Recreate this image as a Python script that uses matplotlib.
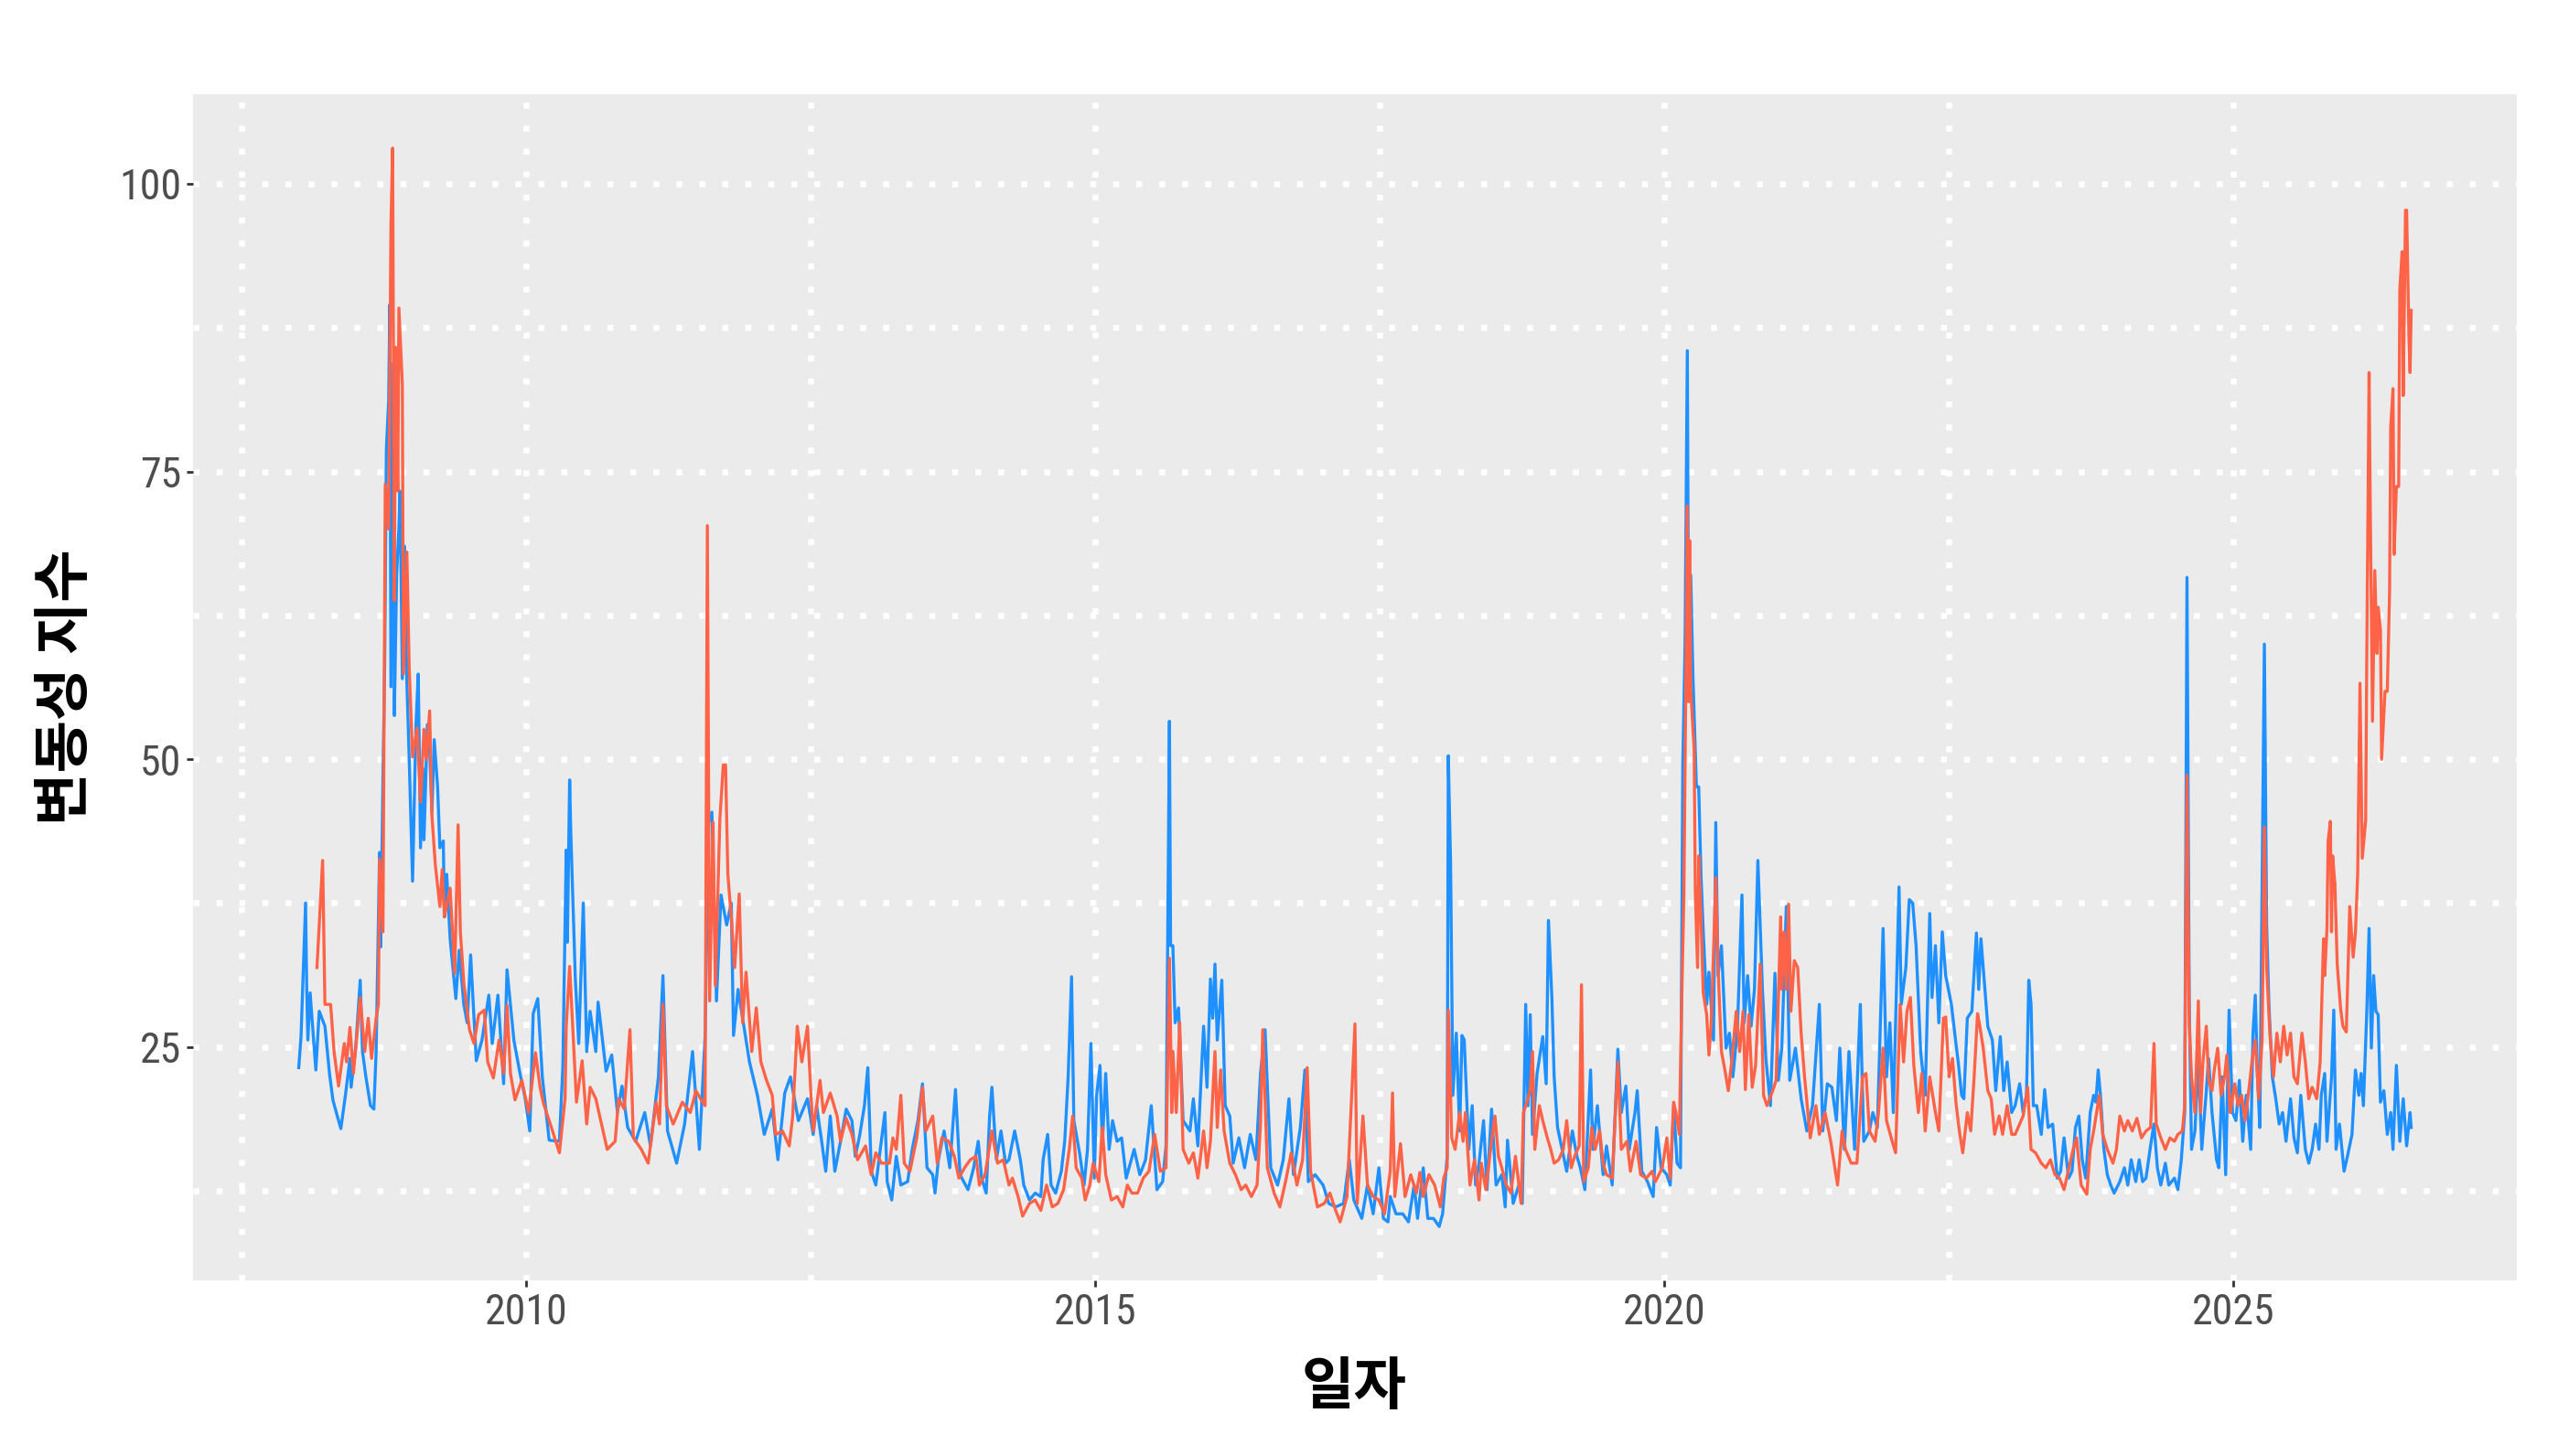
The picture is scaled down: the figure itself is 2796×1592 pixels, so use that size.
import matplotlib.pyplot as plt
from matplotlib import font_manager

# 변동성 지수 (파란색 / 주황색), x = 연도(소수)
series_blue = [
    (2008.00, 23.2), (2008.02, 25.9), (2008.06, 37.5), (2008.07, 30.0), (2008.08, 25.6),
    (2008.10, 29.7), (2008.15, 23.0), (2008.18, 28.1), (2008.23, 26.8), (2008.27, 22.7),
    (2008.30, 20.4), (2008.33, 19.3), (2008.37, 17.9), (2008.41, 20.8), (2008.45, 24.0),
    (2008.46, 21.5), (2008.50, 24.9), (2008.54, 30.8), (2008.56, 24.6), (2008.59, 22.4),
    (2008.63, 19.9), (2008.66, 19.6), (2008.68, 24.6), (2008.71, 41.9), (2008.72, 33.7),
    (2008.74, 48.5), (2008.755, 58.2), (2008.77, 77.0), (2008.79, 81.2), (2008.80, 89.5),
    (2008.81, 56.3), (2008.83, 84.4), (2008.84, 53.8), (2008.86, 66.0), (2008.88, 70.1),
    (2008.89, 73.3), (2008.91, 57.0), (2008.93, 68.5), (2008.95, 56.6), (2008.97, 50.2),
    (2009.00, 39.4), (2009.03, 53.0), (2009.05, 57.4), (2009.07, 42.3), (2009.09, 49.2),
    (2009.10, 43.0), (2009.13, 53.0), (2009.15, 50.7), (2009.17, 45.4), (2009.19, 51.7),
    (2009.22, 47.6), (2009.24, 42.3), (2009.27, 42.9), (2009.28, 36.3), (2009.30, 40.0),
    (2009.33, 34.4), (2009.38, 29.2), (2009.41, 33.4), (2009.45, 28.7), (2009.48, 27.1),
    (2009.51, 33.0), (2009.56, 23.8), (2009.61, 25.6), (2009.67, 29.5), (2009.70, 25.3),
    (2009.75, 29.5), (2009.80, 21.8), (2009.83, 31.7), (2009.89, 25.6), (2009.94, 22.9),
    (2009.99, 20.5), (2010.03, 17.7), (2010.06, 27.9), (2010.10, 29.2), (2010.14, 22.4),
    (2010.20, 16.9), (2010.29, 16.8), (2010.32, 23.2), (2010.35, 42.1), (2010.36, 34.1),
    (2010.38, 48.2), (2010.39, 43.7), (2010.43, 30.9), (2010.46, 25.3), (2010.50, 37.5),
    (2010.53, 24.6), (2010.56, 28.1), (2010.61, 24.6), (2010.63, 28.9), (2010.70, 22.9),
    (2010.75, 24.3), (2010.80, 19.3), (2010.84, 21.6), (2010.89, 18.0), (2010.96, 16.8),
    (2011.04, 19.3), (2011.09, 16.4), (2011.16, 22.4), (2011.20, 31.2), (2011.24, 17.7),
    (2011.32, 14.9), (2011.39, 18.3), (2011.46, 24.6), (2011.52, 16.1), (2011.57, 25.9),
    (2011.60, 44.5), (2011.63, 45.4), (2011.67, 29.0), (2011.71, 38.2), (2011.76, 35.6),
    (2011.80, 37.5), (2011.82, 26.0), (2011.86, 30.0), (2011.96, 23.7), (2012.03, 20.8),
    (2012.09, 17.4), (2012.16, 19.6), (2012.21, 15.2), (2012.27, 21.0), (2012.32, 22.4),
    (2012.39, 18.6), (2012.47, 20.5), (2012.52, 17.4), (2012.55, 19.9), (2012.60, 16.4),
    (2012.63, 14.2), (2012.67, 19.0), (2012.71, 14.2), (2012.76, 16.8), (2012.81, 19.6),
    (2012.86, 18.6), (2012.89, 15.5), (2012.93, 17.4), (2012.97, 19.9), (2013.00, 23.2),
    (2013.03, 14.2), (2013.07, 13.0), (2013.15, 19.3), (2013.17, 13.3), (2013.21, 11.7),
    (2013.25, 15.5), (2013.29, 13.0), (2013.35, 13.3), (2013.39, 16.1), (2013.44, 18.6),
    (2013.48, 21.8), (2013.52, 14.5), (2013.57, 13.9), (2013.59, 12.3), (2013.62, 15.2),
    (2013.67, 17.7), (2013.72, 14.5), (2013.77, 21.3), (2013.81, 13.9), (2013.88, 12.6),
    (2013.93, 14.5), (2013.97, 16.8), (2014.00, 13.6), (2014.04, 12.3), (2014.07, 19.0),
    (2014.09, 21.5), (2014.13, 15.2), (2014.17, 17.7), (2014.21, 14.9), (2014.24, 15.2),
    (2014.29, 17.7), (2014.34, 15.2), (2014.37, 13.0), (2014.42, 11.7), (2014.47, 12.3),
    (2014.52, 12.0), (2014.54, 15.2), (2014.58, 17.4), (2014.61, 13.0), (2014.65, 12.3),
    (2014.70, 14.2), (2014.73, 16.8), (2014.76, 22.4), (2014.79, 31.1), (2014.81, 18.6),
    (2014.86, 15.8), (2014.90, 13.0), (2014.93, 16.1), (2014.96, 25.3), (2014.99, 13.6),
    (2015.01, 20.8), (2015.04, 23.4), (2015.06, 16.4), (2015.09, 22.7), (2015.12, 16.1),
    (2015.15, 18.6), (2015.19, 16.8), (2015.23, 17.1), (2015.27, 13.6), (2015.34, 16.1),
    (2015.39, 13.9), (2015.44, 15.2), (2015.49, 19.9), (2015.54, 12.6), (2015.59, 13.3),
    (2015.62, 16.4), (2015.65, 53.3), (2015.66, 33.8), (2015.68, 33.8), (2015.70, 27.1),
    (2015.73, 28.4), (2015.77, 18.6), (2015.83, 17.7), (2015.86, 20.5), (2015.90, 16.4),
    (2015.95, 26.8), (2015.98, 21.5), (2016.01, 30.9), (2016.03, 27.5), (2016.05, 32.2),
    (2016.07, 25.6), (2016.11, 30.8), (2016.14, 19.9), (2016.18, 19.0), (2016.21, 14.9),
    (2016.26, 17.1), (2016.31, 14.5), (2016.36, 17.4), (2016.41, 15.2), (2016.45, 22.7),
    (2016.49, 26.5), (2016.54, 14.5), (2016.60, 13.0), (2016.65, 15.2), (2016.70, 20.5),
    (2016.74, 13.9), (2016.80, 18.0), (2016.84, 23.0), (2016.87, 13.3), (2016.93, 13.9),
    (2017.00, 13.0), (2017.05, 11.4), (2017.11, 11.1), (2017.18, 11.4), (2017.23, 15.2),
    (2017.27, 11.7), (2017.34, 10.1), (2017.39, 13.0), (2017.44, 10.5), (2017.49, 14.5),
    (2017.53, 10.1), (2017.57, 9.8), (2017.59, 12.0), (2017.64, 10.5), (2017.70, 10.5),
    (2017.75, 9.8), (2017.80, 13.0), (2017.83, 10.1), (2017.88, 14.5), (2017.92, 10.1),
    (2017.97, 10.1), (2018.02, 9.4), (2018.05, 10.5), (2018.07, 13.0), (2018.09, 15.5),
    (2018.10, 50.3), (2018.12, 41.0), (2018.14, 20.8), (2018.17, 26.2), (2018.20, 17.7),
    (2018.22, 26.0), (2018.24, 25.6), (2018.28, 16.1), (2018.31, 19.9), (2018.34, 13.0),
    (2018.37, 14.9), (2018.41, 18.6), (2018.44, 12.6), (2018.48, 19.6), (2018.52, 13.0),
    (2018.57, 13.9), (2018.60, 11.1), (2018.62, 16.9), (2018.67, 11.4), (2018.72, 13.0),
    (2018.75, 11.4), (2018.78, 28.7), (2018.80, 19.9), (2018.82, 27.8), (2018.84, 17.4),
    (2018.88, 22.7), (2018.93, 25.9), (2018.96, 21.8), (2018.98, 36.0), (2019.01, 29.3),
    (2019.03, 22.4), (2019.06, 18.0), (2019.10, 16.1), (2019.14, 14.2), (2019.19, 17.7),
    (2019.23, 15.5), (2019.26, 14.5), (2019.30, 12.6), (2019.35, 23.0), (2019.37, 16.1),
    (2019.41, 19.9), (2019.46, 13.9), (2019.49, 16.4), (2019.54, 13.0), (2019.59, 24.8),
    (2019.62, 19.3), (2019.66, 21.6), (2019.69, 16.1), (2019.74, 19.3), (2019.76, 21.2),
    (2019.80, 14.2), (2019.85, 13.3), (2019.90, 12.0), (2019.93, 18.0), (2019.97, 14.5),
    (2020.02, 13.9), (2020.05, 13.0), (2020.08, 19.9), (2020.11, 14.9), (2020.14, 14.5),
    (2020.16, 49.5), (2020.18, 60.0), (2020.20, 85.5), (2020.21, 62.0), (2020.23, 66.0),
    (2020.25, 57.0), (2020.28, 47.6), (2020.30, 47.6), (2020.32, 40.0), (2020.34, 35.0),
    (2020.37, 28.7), (2020.39, 31.5), (2020.43, 25.6), (2020.45, 44.5), (2020.47, 31.2),
    (2020.50, 33.8), (2020.54, 24.9), (2020.57, 26.2), (2020.60, 22.4), (2020.64, 26.5),
    (2020.68, 38.2), (2020.70, 27.1), (2020.73, 31.2), (2020.76, 26.8), (2020.79, 30.0),
    (2020.82, 41.2), (2020.86, 30.0), (2020.89, 24.0), (2020.93, 19.9), (2020.97, 31.4),
    (2021.00, 22.1), (2021.03, 24.9), (2021.07, 37.2), (2021.10, 22.1), (2021.15, 24.9),
    (2021.20, 20.5), (2021.25, 17.7), (2021.30, 19.9), (2021.36, 28.7), (2021.39, 17.7),
    (2021.43, 21.8), (2021.47, 21.5), (2021.51, 18.6), (2021.54, 24.9), (2021.58, 16.1),
    (2021.62, 24.6), (2021.67, 16.1), (2021.72, 28.7), (2021.75, 16.8), (2021.80, 17.7),
    (2021.83, 19.3), (2021.87, 18.0), (2021.92, 35.3), (2021.95, 22.4), (2021.98, 27.1),
    (2022.01, 19.3), (2022.06, 38.9), (2022.08, 28.7), (2022.12, 31.9), (2022.15, 37.8),
    (2022.18, 37.5), (2022.21, 33.8), (2022.25, 24.6), (2022.29, 20.8), (2022.33, 36.6),
    (2022.35, 29.3), (2022.38, 33.8), (2022.41, 27.1), (2022.44, 35.0), (2022.47, 31.2),
    (2022.52, 28.7), (2022.56, 25.3), (2022.58, 23.7), (2022.61, 20.8), (2022.63, 20.5),
    (2022.66, 27.5), (2022.70, 28.1), (2022.74, 34.9), (2022.76, 30.0), (2022.78, 34.4),
    (2022.81, 30.6), (2022.84, 26.8), (2022.88, 25.6), (2022.91, 21.2), (2022.95, 25.9),
    (2022.98, 21.2), (2023.01, 23.7), (2023.05, 19.3), (2023.08, 19.9), (2023.12, 21.8),
    (2023.15, 19.3), (2023.18, 20.8), (2023.20, 30.8), (2023.22, 28.7), (2023.24, 19.9),
    (2023.27, 19.9), (2023.31, 17.4), (2023.34, 21.3), (2023.37, 18.0), (2023.41, 18.3),
    (2023.45, 13.6), (2023.48, 14.2), (2023.51, 17.1), (2023.55, 13.6), (2023.58, 14.2),
    (2023.61, 18.0), (2023.64, 19.0), (2023.67, 15.2), (2023.70, 13.6), (2023.74, 19.3),
    (2023.77, 20.8), (2023.79, 20.2), (2023.81, 23.0), (2023.83, 20.8), (2023.86, 16.1),
    (2023.89, 13.9), (2023.92, 13.0), (2023.95, 12.3), (2024.00, 13.3), (2024.04, 14.5),
    (2024.07, 13.0), (2024.10, 15.2), (2024.14, 13.3), (2024.17, 15.2), (2024.20, 13.3),
    (2024.23, 13.6), (2024.27, 16.4), (2024.30, 18.3), (2024.33, 14.5), (2024.36, 13.0),
    (2024.40, 14.9), (2024.43, 13.0), (2024.48, 13.6), (2024.51, 12.6), (2024.54, 15.2),
    (2024.57, 19.3), (2024.59, 65.8), (2024.61, 28.7), (2024.63, 16.1), (2024.66, 17.7),
    (2024.69, 24.0), (2024.72, 16.1), (2024.76, 21.2), (2024.78, 24.0), (2024.81, 19.3),
    (2024.85, 15.2), (2024.87, 14.5), (2024.90, 22.4), (2024.93, 13.9), (2024.96, 28.2),
    (2024.99, 19.3), (2025.02, 18.6), (2025.05, 22.1), (2025.08, 16.8), (2025.11, 20.8),
    (2025.15, 16.1), (2025.17, 26.2), (2025.19, 29.5), (2025.21, 22.4), (2025.23, 18.0),
    (2025.27, 60.0), (2025.29, 35.6), (2025.31, 28.7), (2025.34, 22.4), (2025.37, 20.5),
    (2025.40, 18.3), (2025.43, 19.3), (2025.46, 16.8), (2025.50, 20.5), (2025.53, 17.1),
    (2025.56, 15.8), (2025.59, 20.8), (2025.63, 16.1), (2025.66, 14.9), (2025.69, 16.1),
    (2025.72, 18.3), (2025.75, 16.1), (2025.77, 20.8), (2025.80, 22.7), (2025.82, 16.8),
    (2025.86, 22.4), (2025.88, 28.2), (2025.90, 16.1), (2025.93, 18.3), (2025.97, 14.2),
    (2026.00, 15.5), (2026.04, 17.4), (2026.07, 23.0), (2026.10, 20.8), (2026.12, 22.7),
    (2026.14, 19.9), (2026.17, 28.1), (2026.19, 35.3), (2026.21, 24.9), (2026.23, 31.2),
    (2026.25, 28.1), (2026.27, 27.8), (2026.29, 20.2), (2026.32, 21.2), (2026.35, 17.4),
    (2026.38, 19.3), (2026.40, 16.1), (2026.43, 23.4), (2026.46, 16.8), (2026.49, 20.5),
    (2026.52, 16.4), (2026.55, 19.3), (2026.56, 18.0),
]

series_orange = [
    (2008.16, 31.9), (2008.21, 41.2), (2008.23, 28.7), (2008.28, 28.7), (2008.31, 24.6),
    (2008.35, 21.6), (2008.40, 25.3), (2008.42, 23.7), (2008.45, 26.7), (2008.48, 22.7),
    (2008.52, 27.0), (2008.54, 29.3), (2008.58, 24.6), (2008.61, 27.5), (2008.64, 24.0),
    (2008.68, 27.5), (2008.70, 28.7), (2008.71, 41.3), (2008.74, 35.0), (2008.75, 55.0),
    (2008.76, 73.9), (2008.79, 70.0), (2008.81, 96.4), (2008.825, 103.1), (2008.84, 63.8),
    (2008.85, 85.8), (2008.86, 81.9), (2008.87, 73.3), (2008.88, 89.2), (2008.91, 82.6),
    (2008.92, 57.4), (2008.95, 68.0), (2008.97, 58.1), (2009.00, 50.2), (2009.04, 52.7),
    (2009.07, 46.3), (2009.10, 52.6), (2009.12, 50.0), (2009.15, 54.2), (2009.17, 45.1),
    (2009.20, 40.8), (2009.24, 37.2), (2009.26, 40.4), (2009.28, 36.3), (2009.33, 38.8),
    (2009.37, 31.4), (2009.40, 44.3), (2009.42, 35.0), (2009.45, 30.6), (2009.50, 26.5),
    (2009.54, 25.3), (2009.58, 27.8), (2009.63, 28.2), (2009.66, 23.7), (2009.71, 22.3),
    (2009.76, 25.6), (2009.80, 22.7), (2009.83, 28.6), (2009.86, 22.7), (2009.90, 20.4),
    (2009.96, 22.1), (2010.02, 19.3), (2010.08, 24.5), (2010.12, 21.5), (2010.15, 20.1),
    (2010.22, 18.0), (2010.29, 15.8), (2010.34, 20.5), (2010.35, 26.8), (2010.38, 32.0),
    (2010.41, 26.2), (2010.44, 20.2), (2010.49, 23.8), (2010.53, 18.3), (2010.56, 21.5),
    (2010.61, 20.5), (2010.66, 18.3), (2010.71, 16.1), (2010.78, 16.8), (2010.81, 20.5),
    (2010.86, 19.6), (2010.91, 26.5), (2010.94, 17.1), (2011.01, 16.1), (2011.07, 14.9),
    (2011.14, 20.2), (2011.17, 18.3), (2011.20, 28.7), (2011.23, 19.9), (2011.29, 18.3),
    (2011.37, 20.2), (2011.44, 19.3), (2011.49, 21.2), (2011.53, 20.5), (2011.57, 19.9),
    (2011.59, 70.3), (2011.61, 29.0), (2011.64, 44.5), (2011.66, 30.3), (2011.70, 44.8),
    (2011.73, 49.5), (2011.75, 49.5), (2011.77, 40.0), (2011.80, 36.3), (2011.83, 31.9),
    (2011.87, 38.3), (2011.90, 27.1), (2011.93, 31.5), (2011.98, 24.6), (2012.02, 28.4),
    (2012.06, 23.7), (2012.11, 22.1), (2012.16, 20.8), (2012.19, 17.4), (2012.25, 17.7),
    (2012.31, 16.4), (2012.34, 19.0), (2012.38, 26.8), (2012.42, 23.7), (2012.47, 26.8),
    (2012.50, 20.8), (2012.52, 17.7), (2012.58, 22.1), (2012.61, 19.3), (2012.67, 21.0),
    (2012.73, 19.0), (2012.76, 16.8), (2012.81, 18.8), (2012.86, 17.4), (2012.91, 15.2),
    (2012.98, 16.4), (2013.03, 13.9), (2013.07, 15.8), (2013.12, 14.9), (2013.19, 14.9),
    (2013.22, 17.1), (2013.25, 16.1), (2013.29, 20.8), (2013.32, 14.9), (2013.37, 14.2),
    (2013.43, 17.1), (2013.48, 21.5), (2013.51, 17.7), (2013.57, 19.0), (2013.61, 14.9),
    (2013.65, 17.1), (2013.71, 16.8), (2013.76, 15.5), (2013.80, 13.6), (2013.85, 14.5),
    (2013.90, 15.2), (2013.95, 15.5), (2013.98, 13.0), (2014.03, 13.9), (2014.09, 17.7),
    (2014.14, 14.9), (2014.19, 15.2), (2014.24, 13.0), (2014.27, 13.6), (2014.32, 12.0),
    (2014.36, 10.3), (2014.42, 11.4), (2014.47, 11.7), (2014.52, 10.8), (2014.57, 13.0),
    (2014.62, 11.1), (2014.67, 11.4), (2014.72, 12.6), (2014.77, 16.1), (2014.80, 19.0),
    (2014.83, 14.5), (2014.88, 13.6), (2014.91, 11.7), (2014.95, 13.0), (2014.98, 14.9),
    (2015.03, 13.3), (2015.06, 18.0), (2015.09, 13.9), (2015.14, 11.7), (2015.19, 12.0),
    (2015.24, 11.1), (2015.28, 13.0), (2015.32, 12.3), (2015.37, 12.3), (2015.42, 13.6),
    (2015.47, 14.2), (2015.52, 17.4), (2015.57, 14.2), (2015.62, 14.5), (2015.65, 32.7),
    (2015.67, 19.3), (2015.68, 24.6), (2015.71, 19.3), (2015.74, 27.1), (2015.77, 16.1),
    (2015.82, 14.9), (2015.86, 15.8), (2015.90, 13.6), (2015.95, 17.7), (2015.98, 14.5),
    (2016.01, 16.8), (2016.05, 24.6), (2016.07, 18.0), (2016.10, 23.0), (2016.13, 17.7),
    (2016.18, 14.9), (2016.23, 13.9), (2016.28, 12.6), (2016.32, 13.0), (2016.37, 12.0),
    (2016.42, 13.0), (2016.45, 18.3), (2016.47, 26.5), (2016.51, 14.5), (2016.57, 12.3),
    (2016.62, 11.1), (2016.67, 13.3), (2016.72, 15.8), (2016.77, 13.0), (2016.82, 15.2),
    (2016.86, 23.2), (2016.89, 14.2), (2016.95, 11.1), (2017.01, 11.4), (2017.06, 12.3),
    (2017.11, 10.8), (2017.15, 9.8), (2017.21, 12.0), (2017.28, 27.0), (2017.30, 11.4),
    (2017.35, 19.0), (2017.39, 13.0), (2017.44, 12.0), (2017.49, 11.7), (2017.54, 10.5),
    (2017.59, 14.2), (2017.61, 21.0), (2017.63, 12.0), (2017.68, 16.6), (2017.72, 12.0),
    (2017.77, 13.9), (2017.82, 12.3), (2017.85, 14.1), (2017.88, 12.0), (2017.93, 13.9),
    (2017.98, 13.0), (2018.03, 11.1), (2018.06, 13.6), (2018.09, 14.5), (2018.10, 28.2),
    (2018.13, 17.1), (2018.16, 16.1), (2018.20, 19.3), (2018.23, 16.8), (2018.25, 19.3),
    (2018.29, 13.0), (2018.33, 15.2), (2018.37, 11.7), (2018.39, 14.9), (2018.43, 12.6),
    (2018.48, 16.8), (2018.51, 19.0), (2018.54, 15.5), (2018.57, 14.5), (2018.61, 13.0),
    (2018.65, 12.3), (2018.69, 15.5), (2018.74, 11.4), (2018.76, 19.3), (2018.79, 20.2),
    (2018.82, 21.2), (2018.84, 24.6), (2018.86, 16.1), (2018.90, 19.9), (2018.93, 18.6),
    (2018.97, 17.1), (2019.00, 16.1), (2019.03, 14.9), (2019.07, 15.2), (2019.11, 16.1),
    (2019.14, 18.6), (2019.18, 14.5), (2019.21, 15.5), (2019.25, 16.4), (2019.27, 30.4),
    (2019.29, 13.3), (2019.33, 14.5), (2019.36, 18.0), (2019.39, 16.1), (2019.43, 17.7),
    (2019.46, 14.9), (2019.49, 13.9), (2019.54, 13.6), (2019.59, 23.7), (2019.62, 16.1),
    (2019.67, 16.8), (2019.70, 14.2), (2019.75, 16.8), (2019.79, 13.9), (2019.84, 13.6),
    (2019.89, 14.2), (2019.92, 13.3), (2019.95, 13.9), (2019.98, 14.5), (2020.02, 17.1),
    (2020.05, 13.6), (2020.08, 20.2), (2020.10, 19.3), (2020.13, 17.4), (2020.15, 28.7),
    (2020.17, 38.2), (2020.19, 60.0), (2020.20, 72.0), (2020.21, 55.0), (2020.22, 69.0),
    (2020.23, 56.0), (2020.26, 50.8), (2020.27, 38.5), (2020.29, 31.9), (2020.30, 41.6),
    (2020.32, 36.3), (2020.34, 29.7), (2020.37, 27.8), (2020.39, 24.3), (2020.41, 27.1),
    (2020.44, 36.3), (2020.45, 39.7), (2020.47, 31.9), (2020.50, 24.6), (2020.53, 23.0),
    (2020.56, 21.2), (2020.59, 23.7), (2020.63, 28.1), (2020.66, 24.6), (2020.69, 28.1),
    (2020.71, 21.3), (2020.74, 27.8), (2020.77, 21.5), (2020.80, 23.4), (2020.84, 32.2),
    (2020.87, 20.8), (2020.90, 19.9), (2020.95, 21.2), (2020.98, 22.1), (2021.02, 36.3),
    (2021.03, 30.0), (2021.05, 35.0), (2021.07, 30.0), (2021.09, 37.4), (2021.11, 28.1),
    (2021.14, 32.5), (2021.17, 31.9), (2021.20, 26.2), (2021.23, 22.4), (2021.28, 17.1),
    (2021.33, 19.9), (2021.36, 17.4), (2021.41, 19.3), (2021.46, 16.8), (2021.52, 13.0),
    (2021.56, 17.7), (2021.59, 16.1), (2021.64, 14.9), (2021.69, 14.9), (2021.74, 22.4),
    (2021.77, 22.7), (2021.80, 17.7), (2021.85, 16.8), (2021.88, 19.3), (2021.92, 24.9),
    (2021.95, 18.6), (2022.00, 16.8), (2022.03, 15.8), (2022.07, 28.7), (2022.10, 23.7),
    (2022.13, 28.1), (2022.16, 29.3), (2022.19, 23.4), (2022.23, 19.3), (2022.26, 22.7),
    (2022.29, 17.7), (2022.33, 22.4), (2022.38, 19.3), (2022.41, 17.7), (2022.45, 27.5),
    (2022.47, 27.6), (2022.50, 22.4), (2022.53, 24.0), (2022.56, 20.2), (2022.59, 17.7),
    (2022.62, 15.8), (2022.66, 19.3), (2022.69, 17.7), (2022.72, 22.4), (2022.75, 27.9),
    (2022.77, 26.8), (2022.80, 24.9), (2022.84, 21.2), (2022.87, 20.5), (2022.90, 17.4),
    (2022.94, 19.0), (2022.97, 17.4), (2023.01, 19.9), (2023.05, 17.4), (2023.08, 17.4),
    (2023.12, 18.3), (2023.15, 19.0), (2023.19, 21.5), (2023.22, 16.1), (2023.26, 15.8),
    (2023.31, 14.9), (2023.35, 14.5), (2023.39, 15.2), (2023.43, 13.9), (2023.47, 13.6),
    (2023.51, 12.6), (2023.54, 13.9), (2023.59, 16.1), (2023.62, 17.1), (2023.66, 13.0),
    (2023.71, 12.2), (2023.74, 16.1), (2023.77, 17.7), (2023.82, 20.8), (2023.85, 17.4),
    (2023.89, 16.1), (2023.94, 14.9), (2023.97, 16.1), (2024.00, 19.0), (2024.04, 17.7),
    (2024.07, 18.6), (2024.11, 17.7), (2024.15, 18.8), (2024.19, 17.1), (2024.23, 17.7),
    (2024.27, 18.0), (2024.30, 25.3), (2024.32, 18.3), (2024.36, 17.1), (2024.40, 16.1),
    (2024.44, 17.1), (2024.48, 16.8), (2024.51, 17.4), (2024.55, 17.7), (2024.57, 19.9),
    (2024.59, 48.6), (2024.61, 27.1), (2024.63, 22.4), (2024.66, 19.3), (2024.69, 29.0),
    (2024.71, 19.3), (2024.73, 23.7), (2024.76, 26.8), (2024.78, 22.1), (2024.81, 21.2),
    (2024.83, 23.0), (2024.86, 24.9), (2024.89, 20.8), (2024.92, 22.4), (2024.94, 24.3),
    (2024.97, 19.3), (2025.01, 21.8), (2025.04, 19.9), (2025.07, 20.8), (2025.10, 18.6),
    (2025.14, 21.8), (2025.16, 23.7), (2025.19, 25.6), (2025.22, 20.5), (2025.25, 25.6),
    (2025.27, 44.1), (2025.29, 31.9), (2025.32, 25.9), (2025.35, 22.4), (2025.38, 26.2),
    (2025.41, 23.7), (2025.44, 26.8), (2025.47, 24.3), (2025.50, 26.2), (2025.53, 22.4),
    (2025.56, 21.8), (2025.60, 26.2), (2025.63, 23.7), (2025.66, 20.5), (2025.69, 21.5),
    (2025.73, 20.5), (2025.76, 23.7), (2025.78, 30.9), (2025.79, 34.4), (2025.80, 31.2),
    (2025.82, 35.3), (2025.83, 42.9), (2025.85, 44.6), (2025.86, 35.0), (2025.87, 41.6),
    (2025.89, 39.1), (2025.91, 32.2), (2025.94, 28.3), (2025.96, 26.8), (2025.99, 26.3),
    (2026.02, 37.2), (2026.05, 32.8), (2026.07, 34.9), (2026.09, 40.1), (2026.11, 56.6),
    (2026.13, 41.4), (2026.16, 44.7), (2026.17, 59.2), (2026.19, 83.6), (2026.20, 72.4),
    (2026.22, 53.3), (2026.24, 66.4), (2026.26, 59.2), (2026.27, 63.2), (2026.29, 61.2),
    (2026.30, 50.0), (2026.33, 55.9), (2026.35, 55.9), (2026.37, 64.5), (2026.38, 78.9),
    (2026.40, 82.2), (2026.41, 67.8), (2026.43, 73.7), (2026.45, 73.7), (2026.46, 90.8),
    (2026.48, 94.1), (2026.49, 81.6), (2026.51, 97.7), (2026.52, 97.7), (2026.54, 86.8),
    (2026.55, 83.6), (2026.56, 89.0),
]

x_ticks = [2010, 2015, 2020, 2025]
x_minor = [2007.5, 2012.5, 2017.5, 2022.5]
y_ticks = [25, 50, 75, 100]
y_minor = [12.5, 37.5, 62.5, 87.5]

blue_x, blue_y = zip(*series_blue)
orange_x, orange_y = zip(*series_orange)

kr = ['Noto Sans CJK KR', 'DejaVu Sans']

# 좁은 글꼴이 있으면 눈금 라벨에 사용
installed = {f.name for f in font_manager.fontManager.ttflist}
tick_family, tick_stretch, tick_size = 'DejaVu Sans', 'condensed', 15.5
for name, size in [('Roboto Condensed', 16.5), ('Liberation Sans Narrow', 17.5)]:
    if name in installed:
        tick_family, tick_stretch, tick_size = name, 'normal', size
        break

fig = plt.figure(figsize=(13.98, 7.96), dpi=200)
ax = fig.add_axes([0.0755, 0.1206, 0.9084, 0.8147])
ax.set_facecolor('#EBEBEB')
for s in ax.spines.values():
    s.set_visible(False)

ax.plot(blue_x, blue_y, color='#1E90FF', lw=1.2, zorder=3)
ax.plot(orange_x, orange_y, color='#FF6347', lw=1.2, zorder=4)
ax.margins(0.05)

ax.set_xticks(x_ticks)
ax.set_xticklabels([str(t) for t in x_ticks])
ax.set_xticks(x_minor, minor=True)
ax.set_yticks(y_ticks)
ax.set_yticklabels([str(t) for t in y_ticks])
ax.set_yticks(y_minor, minor=True)

# 점선 격자 (흰색 사각 점)
ax.set_axisbelow(True)
ax.grid(which='both', color='white', lw=2.35, linestyle=(0, (1.0, 2.85)))
ax.tick_params(which='major', length=2.5, width=1.0, color='#333333',
               labelcolor='#4D4D4D', pad=2.2)
ax.tick_params(which='minor', length=0)
for lab in ax.get_xticklabels() + ax.get_yticklabels():
    lab.set_family(tick_family)
    lab.set_stretch(tick_stretch)
    lab.set_fontsize(tick_size)

fig.text(0.5293, 0.0477, '일자', ha='center', va='center',
         family=kr, fontweight='bold', fontsize=22.5, color='black')
fig.text(0.0254, 0.528, '변동성 지수', ha='center', va='center', rotation=90,
         family=kr, fontweight='bold', fontsize=22.5, color='black')

fig.savefig('out.png', dpi=200)
